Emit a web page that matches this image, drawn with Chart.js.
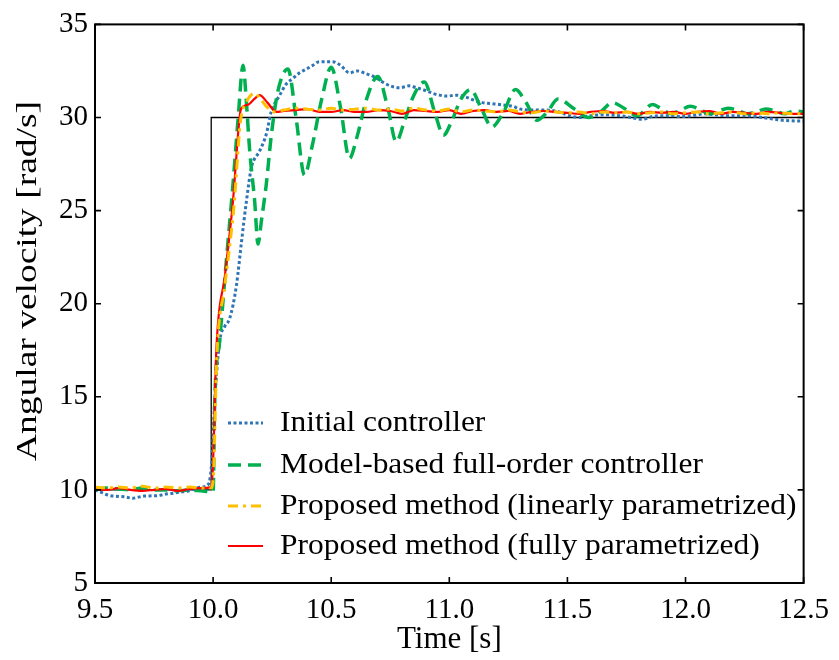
<!DOCTYPE html>
<html>
<head>
<meta charset="utf-8">
<script src="https://cdn.jsdelivr.net/npm/chart.js@4.4.0/dist/chart.umd.min.js"></script>
<style>
html, body { margin: 0; padding: 0; background: #fff; }
#wrap { width: 839px; height: 660px; }
</style>
</head>
<body>
<div id="wrap"><canvas id="chart" width="839" height="660"></canvas></div>
<script>
// --- Datos ---
const refTime = [9.5, 9.992, 9.992, 12.5];
const refVel  = [10, 10, 30, 30];

const initTime = [9.50, 9.53, 9.56, 9.60, 9.63, 9.66, 9.68, 9.71, 9.74, 9.77, 9.80, 9.83, 9.86, 9.89, 9.92, 9.95, 9.98, 9.995,
  10.007, 10.028, 10.05, 10.07, 10.099, 10.12, 10.141, 10.162, 10.197, 10.225, 10.246, 10.282, 10.31, 10.338, 10.366, 10.395,
  10.422, 10.45, 10.48, 10.505, 10.54, 10.577, 10.61, 10.648, 10.68, 10.718, 10.75, 10.789, 10.831, 10.86, 10.9, 10.93, 10.958,
  10.99, 11.028, 11.07, 11.1, 11.14, 11.17, 11.211, 11.24, 11.27, 11.295, 11.35, 11.41, 11.465, 11.507, 11.55, 11.6, 11.66,
  11.72, 11.77, 11.815, 11.86, 11.9, 11.94, 11.98, 12.03, 12.08, 12.12, 12.17, 12.21, 12.25, 12.3, 12.34, 12.38, 12.41, 12.45, 12.5];
const initVel = [10.0, 9.85, 9.7, 9.65, 9.62, 9.55, 9.6, 9.67, 9.68, 9.7, 9.78, 9.82, 9.88, 9.93, 10.05, 10.15, 10.3, 11.6,
  14.8, 18.0, 18.8, 19.2, 21.0, 23.3, 25.5, 27.3, 28.2, 29.1, 30.3, 31.2, 31.8, 32.1, 32.4, 32.6,
  32.8, 33.0, 33.0, 33.0, 32.8, 32.4, 32.5, 32.35, 32.2, 31.9, 31.7, 31.6, 31.7, 31.6, 31.45, 31.3, 31.2,
  31.15, 31.2, 31.1, 30.95, 30.8, 30.75, 30.7, 30.65, 30.6, 30.47, 30.4, 30.4, 30.3, 30.1, 30.0, 30.1, 30.15,
  30.1, 30.0, 29.9, 30.05, 30.1, 30.1, 30.05, 30.1, 30.2, 30.15, 30.1, 30.1, 30.1, 30.05, 29.97, 29.9, 29.85, 29.82, 29.8];

const modelTime = [9.50, 9.55, 9.6, 9.65, 9.7, 9.75, 9.8, 9.85, 9.9, 9.95, 9.99, 10.0, 10.007, 10.028, 10.056, 10.084, 10.105,
  10.127, 10.14, 10.155, 10.176, 10.19, 10.205, 10.225, 10.246, 10.274, 10.317, 10.352, 10.387, 10.42, 10.46, 10.5, 10.54,
  10.577, 10.61, 10.65, 10.697, 10.74, 10.775, 10.81, 10.85, 10.894, 10.94, 10.975, 11.01, 11.05, 11.09, 11.135, 11.18,
  11.23, 11.28, 11.325, 11.37, 11.415, 11.46, 11.525, 11.59, 11.64, 11.69, 11.74, 11.795, 11.86, 11.9, 11.94, 11.98,
  12.02, 12.06, 12.1, 12.14, 12.18, 12.22, 12.26, 12.3, 12.34, 12.38, 12.42, 12.46, 12.5];
const modelVel = [10.0, 10.1, 10.05, 10.0, 10.1, 10.0, 10.0, 9.95, 10.0, 9.95, 9.9, 9.9, 14.8, 18.0, 22.3, 26.4, 29.8,
  32.8, 31.0, 28.2, 25.5, 23.2, 24.5, 26.4, 29.0, 31.4, 32.6, 29.9, 26.9, 28.5, 31.0, 32.7, 30.5,
  27.8, 29.0, 31.0, 32.2, 30.5, 28.7, 29.8, 31.2, 31.9, 30.2, 29.05, 29.8, 31.0, 31.5, 30.5, 29.5,
  30.3, 31.5, 30.8, 29.85, 30.3, 31.0, 30.5, 30.0, 30.3, 30.8, 30.5, 30.1, 30.7, 30.45, 30.2, 30.4,
  30.6, 30.45, 30.2, 30.35, 30.5, 30.4, 30.2, 30.3, 30.45, 30.35, 30.2, 30.35, 30.3];

const linTime = [9.5, 9.55, 9.6, 9.65, 9.7, 9.75, 9.8, 9.85, 9.9, 9.95, 9.99, 10.0, 10.016, 10.05, 10.088, 10.116, 10.14,
  10.176, 10.2, 10.225, 10.26, 10.3, 10.35, 10.4, 10.45, 10.5, 10.55, 10.6, 10.65, 10.7, 10.75, 10.8, 10.85, 10.9, 10.95,
  11.0, 11.05, 11.1, 11.15, 11.2, 11.25, 11.3, 11.35, 11.4, 11.45, 11.5, 11.55, 11.6, 11.65, 11.7, 11.75, 11.8, 11.85,
  11.9, 11.95, 12.0, 12.05, 12.1, 12.15, 12.2, 12.25, 12.3, 12.35, 12.4, 12.45, 12.5];
const linVel = [10.15, 10.1, 10.15, 10.1, 10.2, 10.1, 10.15, 10.1, 10.15, 10.1, 10.1, 10.5, 17.2, 21.0, 25.2, 29.8, 30.8,
  31.3, 31.0, 30.6, 30.3, 30.4, 30.5, 30.45, 30.4, 30.5, 30.4, 30.45, 30.5, 30.4, 30.45, 30.35, 30.5, 30.4, 30.35,
  30.45, 30.3, 30.4, 30.35, 30.3, 30.4, 30.3, 30.25, 30.35, 30.3, 30.25, 30.3, 30.2, 30.3, 30.25, 30.3, 30.2, 30.25,
  30.3, 30.2, 30.25, 30.3, 30.2, 30.25, 30.3, 30.2, 30.25, 30.2, 30.25, 30.2, 30.2];

const fullTime = [9.5, 9.55, 9.6, 9.65, 9.7, 9.75, 9.8, 9.85, 9.9, 9.95, 9.99, 9.999, 10.014, 10.05, 10.084, 10.113, 10.12,
  10.15, 10.175, 10.197, 10.23, 10.268, 10.3, 10.35, 10.4, 10.45, 10.5, 10.55, 10.6, 10.65, 10.7, 10.75, 10.8, 10.85,
  10.9, 10.95, 11.0, 11.05, 11.1, 11.15, 11.2, 11.25, 11.3, 11.35, 11.4, 11.45, 11.5, 11.55, 11.6, 11.65, 11.7, 11.75,
  11.8, 11.85, 11.9, 11.95, 12.0, 12.05, 12.1, 12.15, 12.2, 12.25, 12.3, 12.35, 12.4, 12.45, 12.5];
const fullVel = [10.05, 10.0, 10.1, 10.0, 9.95, 10.0, 10.05, 9.95, 10.05, 10.1, 10.15, 11.2, 17.6, 21.5, 25.5, 30.1, 30.5,
  30.7, 31.0, 31.2, 30.8, 30.3, 30.35, 30.4, 30.45, 30.3, 30.3, 30.4, 30.3, 30.3, 30.4, 30.35, 30.2, 30.4,
  30.35, 30.3, 30.4, 30.2, 30.35, 30.4, 30.3, 30.35, 30.2, 30.3, 30.35, 30.3, 30.25, 30.2, 30.3, 30.35, 30.25, 30.3,
  30.2, 30.3, 30.25, 30.3, 30.2, 30.3, 30.35, 30.2, 30.3, 30.25, 30.2, 30.3, 30.25, 30.2, 30.2];

const legendLabels = [
  'Initial controller',
  'Model-based full-order controller',
  'Proposed method (linearly parametrized)',
  'Proposed method (fully parametrized)'
];
const yTitle = 'Angular velocity [rad/s]';

// --- Estilos ---
const FONT = '"Liberation Serif", "DejaVu Serif", serif';
const BLUE = '#2e75b6';
const GREEN = '#00b050';
const YELLOW = '#ffc000';
const RED = '#ff0000';

function toPoints(ts, vs) {
  return ts.map((t, i) => ({ x: t, y: vs[i] }));
}

function lineDataset(label, ts, vs, color, width, dash, order) {
  return {
    label: label,
    data: toPoints(ts, vs),
    borderColor: color,
    borderWidth: width,
    borderDash: dash,
    borderCapStyle: 'butt',
    pointRadius: 0,
    fill: false,
    cubicInterpolationMode: 'monotone',
    order: order
  };
}

const legendStyles = [
  { color: BLUE, width: 3, dash: [3, 2.5] },
  { color: GREEN, width: 3.5, dash: [13, 7] },
  { color: YELLOW, width: 3, dash: [10, 5, 3, 5] },
  { color: RED, width: 2.2, dash: [] }
];

// Marco negro con ticks hacia dentro en los cuatro lados
const frameTicks = {
  id: 'frameTicks',
  afterDatasetsDraw(chart) {
    const { ctx, chartArea: a, scales: { x, y } } = chart;
    ctx.save();
    ctx.strokeStyle = '#000';
    ctx.lineWidth = 1.6;
    ctx.beginPath();
    x.ticks.forEach(t => {
      const px = x.getPixelForValue(t.value);
      ctx.moveTo(px, a.bottom); ctx.lineTo(px, a.bottom - 6);
      ctx.moveTo(px, a.top); ctx.lineTo(px, a.top + 6);
    });
    y.ticks.forEach(t => {
      const py = y.getPixelForValue(t.value);
      ctx.moveTo(a.left, py); ctx.lineTo(a.left + 6, py);
      ctx.moveTo(a.right, py); ctx.lineTo(a.right - 6, py);
    });
    ctx.stroke();
    ctx.lineWidth = 2;
    ctx.strokeRect(a.left, a.top, a.right - a.left, a.bottom - a.top);
    ctx.restore();
  }
};

// Titulo del eje Y (tipografia mas ancha en el original)
const yAxisTitle = {
  id: 'yAxisTitle',
  afterDraw(chart) {
    const ctx = chart.ctx;
    ctx.save();
    ctx.font = '30px ' + FONT;
    ctx.fillStyle = '#000';
    ctx.textAlign = 'center';
    ctx.textBaseline = 'middle';
    const w = ctx.measureText(yTitle).width;
    ctx.translate(28, 281);
    ctx.rotate(-Math.PI / 2);
    ctx.scale(360 / w, 1);
    ctx.fillText(yTitle, 0, 0);
    ctx.restore();
  }
};

// Leyenda dentro del area, sin caja
const innerLegend = {
  id: 'innerLegend',
  afterDraw(chart) {
    const ctx = chart.ctx;
    const rows = [423, 465, 506, 546];
    ctx.save();
    ctx.font = '29px ' + FONT;
    ctx.textBaseline = 'middle';
    ctx.fillStyle = '#000';
    legendLabels.forEach((lab, i) => {
      const s = legendStyles[i];
      ctx.beginPath();
      ctx.strokeStyle = s.color;
      ctx.lineWidth = s.width;
      ctx.setLineDash(s.dash);
      ctx.moveTo(228, rows[i]);
      ctx.lineTo(263, rows[i]);
      ctx.stroke();
      ctx.setLineDash([]);
      ctx.save();
      ctx.translate(280, rows[i]);
      ctx.scale(1.085, 1);
      ctx.fillText(lab, 0, 0);
      ctx.restore();
    });
    ctx.restore();
  }
};

const ctx = document.getElementById('chart').getContext('2d');
new Chart(ctx, {
  type: 'line',
  data: {
    datasets: [
      lineDataset(legendLabels[2], linTime, linVel, YELLOW, 3, [10, 5, 3, 5], 0),
      lineDataset(legendLabels[3], fullTime, fullVel, RED, 2.2, [], 1),
      lineDataset(legendLabels[1], modelTime, modelVel, GREEN, 3.5, [13, 7], 2),
      lineDataset(legendLabels[0], initTime, initVel, BLUE, 3, [3, 2.5], 3),
      {
        label: 'Reference',
        data: toPoints(refTime, refVel),
        borderColor: '#000',
        borderWidth: 1.3,
        pointRadius: 0,
        tension: 0,
        order: 4
      }
    ]
  },
  options: {
    responsive: false,
    animation: false,
    layout: { padding: { top: 22, right: 34, left: 0, bottom: 0 } },
    plugins: {
      legend: { display: false },
      tooltip: { enabled: false }
    },
    scales: {
      x: {
        type: 'linear',
        min: 9.5,
        max: 12.5,
        border: { display: false },
        grid: { display: false, drawTicks: false },
        ticks: {
          stepSize: 0.5,
          padding: 10,
          color: '#000',
          font: { family: FONT, size: 29 },
          maxRotation: 0,
          callback: v => v.toFixed(1)
        },
        title: {
          display: true,
          text: 'Time [s]',
          color: '#000',
          font: { family: FONT, size: 31 },
          padding: { top: 0, bottom: 2 }
        },
        afterFit(scale) { scale.height = 77; }
      },
      y: {
        min: 5,
        max: 35,
        border: { display: false },
        grid: { display: false, drawTicks: false },
        ticks: {
          stepSize: 5,
          padding: 7,
          color: '#000',
          font: { family: FONT, size: 29 },
          callback: v => String(v)
        },
        title: { display: false },
        afterFit(scale) { scale.width = 95; }
      }
    }
  },
  plugins: [frameTicks, yAxisTitle, innerLegend]
});
</script>
</body>
</html>
